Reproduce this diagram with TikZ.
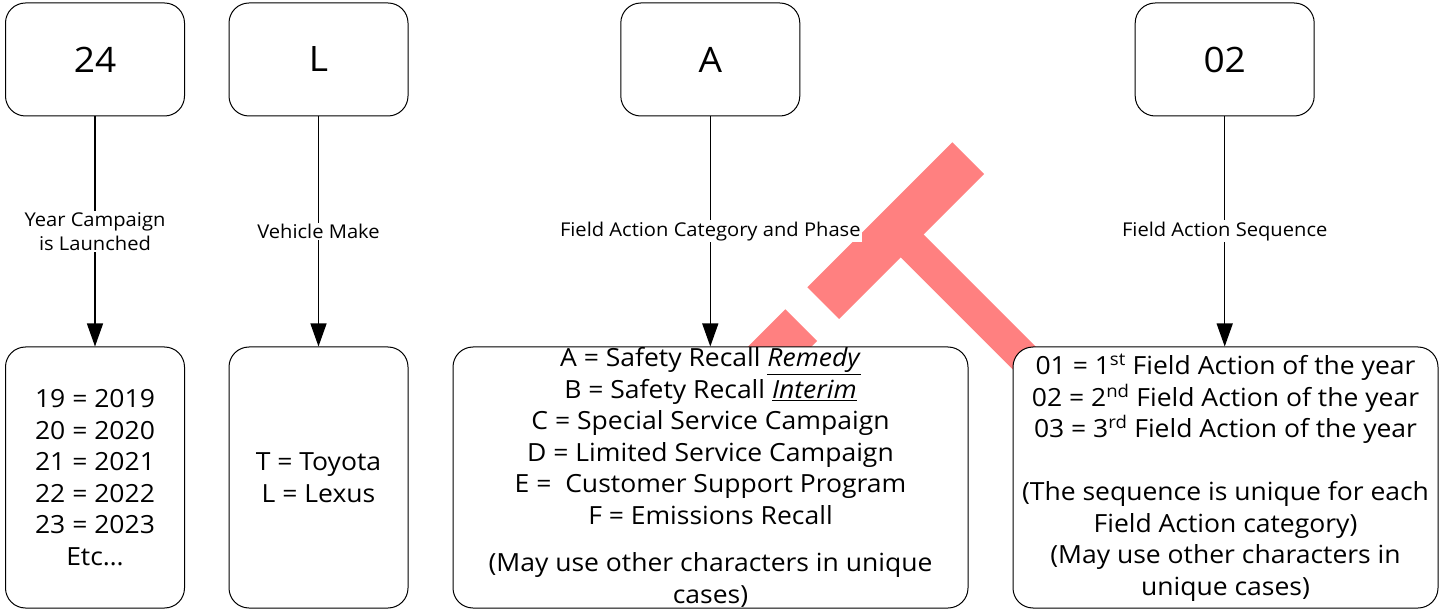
\documentclass[tikz,border=0pt]{standalone}
\usepackage{fontspec}
\setmainfont{Open Sans}[FakeStretch=1.06]
\usetikzlibrary{arrows.meta}
\definecolor{wm}{RGB}{255,128,128}
\begin{document}
\begin{tikzpicture}[x=1pt,y=-1pt,
  codebox/.style={draw=black,line width=1pt,rounded corners=20pt,fill=white,inner sep=0pt},
  topbox/.style={codebox,minimum width=179pt,minimum height=113pt,font=\fontsize{35}{40}\selectfont},
  botbox/.style={codebox,minimum height=261pt,align=center,font=\fontsize{25}{31.5}\selectfont},
  arr/.style={line width=1.3pt,-{Triangle[width=16pt,length=23pt]}},
  lbl/.style={fill=white,inner sep=1.5pt,align=center,font=\fontsize{19}{24}\selectfont}]
\useasboundingbox (0,0) rectangle (1445,609);
% watermark strokes
\fill[wm] (807.3,287.3) -- (952.3,142.3) -- (984,174) -- (839,319) -- cycle;
\fill[wm] (884.7,241.3) -- (907.5,218.5) -- (1094.5,405.5) -- (1071.7,428.3) -- cycle;
\fill[wm] (697.3,397.3) -- (785.3,309.3) -- (817,341) -- (729,429) -- cycle;
% top boxes
\node[topbox] (t1) at (95,59.5) {24};
\node[topbox] (t2) at (318.5,59.5) {L};
\node[topbox] (t3) at (710.3,59.5) {A};
\node[topbox] (t4) at (1224.7,59.5) {02};
% bottom boxes
\node[botbox,minimum width=179pt] (b1) at (95,477.5) {19 = 2019\\20 = 2020\\21 = 2021\\22 = 2022\\23 = 2023\\Etc\dots};
\node[botbox,minimum width=179pt] (b2) at (318.5,477.5) {T = Toyota\\L = Lexus};
\node[botbox,minimum width=515pt] (b3) at (710.5,477.5) {A = Safety Recall \underline{\textit{Remedy}}\\B = Safety Recall \underline{\textit{Interim}}\\C = Special Service Campaign\\D = Limited Service Campaign\\E =\ \ Customer Support Program\\F = Emissions Recall\\[16pt](May use other characters in unique\\cases)};
\node[botbox,minimum width=425pt] (b4) at (1225.5,477.5) {01 = 1\textsuperscript{st} Field Action of the year\\02 = 2\textsuperscript{nd} Field Action of the year\\03 = 3\textsuperscript{rd} Field Action of the year\\[31.5pt](The sequence is unique for each\\Field Action category)\\(May use other characters in\\unique cases)};
% connectors
\draw[arr] (t1) -- node[lbl] {Year Campaign\\is Launched} (b1);
\draw[arr] (t2) -- node[lbl] {Vehicle Make} (b2);
\draw[arr] (t3) -- node[lbl] {Field Action Category and Phase} (t3 |- b3.north);
\draw[arr] (t4) -- node[lbl] {Field Action Sequence} (t4 |- b4.north);
\end{tikzpicture}
\end{document}
